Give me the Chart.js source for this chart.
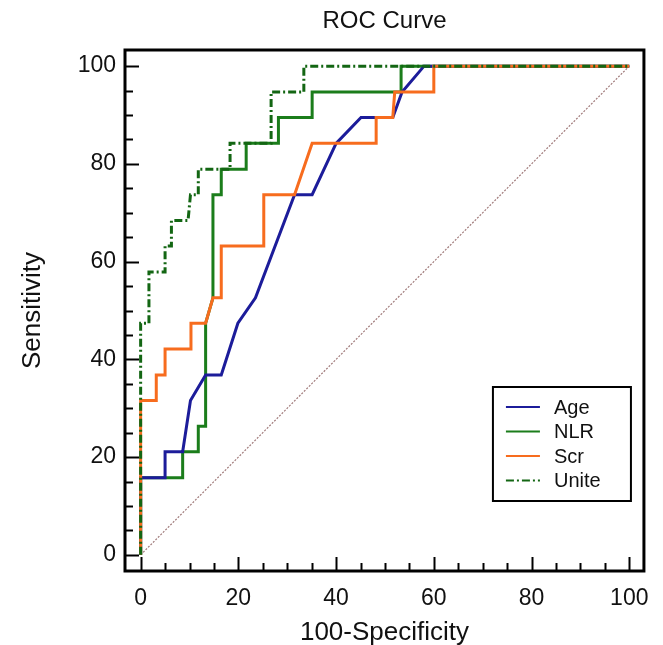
<!DOCTYPE html>
<html lang="en">
<head>
<meta charset="UTF-8">
<title>ROC Curve</title>
<script src="https://cdn.jsdelivr.net/npm/chart.js"></script>
<style>
  body { margin: 0; background: #fff; }
</style>
</head>
<body>
<canvas id="roc" width="663" height="645"></canvas>
<script>
// ROC points (100-Specificity, Sensitivity)
const ageX = [0, 0, 5, 5, 8.6, 10.2, 13.3, 16.5, 19.9, 23.5, 31.5, 35.1, 40, 45.1, 51.6, 53.5, 58, 100];
const ageY = [0, 15.8, 15.8, 21.1, 21.1, 31.6, 36.8, 36.8, 47.4, 52.6, 73.7, 73.7, 84.2, 89.5, 89.5, 94.7, 100, 100];

const nlrX = [0, 0, 8.6, 8.6, 11.8, 11.8, 13.3, 13.3, 14.8, 14.8, 16.5, 16.5, 21.6, 21.6, 28.2, 28.2, 35.1, 35.1, 53.3, 53.3, 100];
const nlrY = [0, 15.8, 15.8, 21.1, 21.1, 26.3, 26.3, 47.4, 52.6, 73.7, 73.7, 78.9, 78.9, 84.2, 84.2, 89.5, 89.5, 94.7, 94.7, 100, 100];

const scrX = [0, 0, 3.2, 3.2, 5, 5, 10.3, 10.3, 13.3, 14.8, 16.5, 16.5, 25.2, 25.2, 31.5, 35.1, 48.2, 48.2, 51.6, 52, 60, 60, 100];
const scrY = [0, 31.6, 31.6, 36.8, 36.8, 42.1, 42.1, 47.4, 47.4, 52.6, 52.6, 63.2, 63.2, 73.7, 73.7, 84.2, 84.2, 89.5, 89.5, 94.7, 94.7, 100, 100];

const uniteX = [0, 0, 1.7, 1.7, 5, 5, 6.3, 6.3, 9.7, 10.2, 11.8, 11.8, 18.3, 18.3, 26.7, 26.7, 33.4, 33.4, 100];
const uniteY = [0, 47.4, 47.4, 57.9, 57.9, 63.2, 63.2, 68.4, 68.4, 73.7, 73.7, 78.9, 78.9, 84.2, 84.2, 94.7, 94.7, 100, 100];

const refX = [0, 100];
const refY = [0, 100];

const seriesNames = ['Age', 'NLR', 'Scr', 'Unite'];
const axisTicks = [0, 20, 40, 60, 80, 100];

const FONT = 'Arial, "Liberation Sans", sans-serif';

function pts(xs, ys) {
    return xs.map((x, i) => ({ x: x, y: ys[i] }));
}

// frame and inward ticks (major every 20, minor every 5)
const frameTicks = {
    id: 'frameTicks',
    afterDatasetsDraw(chart) {
        const { ctx, chartArea: a, scales } = chart;
        ctx.save();
        ctx.strokeStyle = '#000';
        ctx.lineWidth = 2;
        for (let v = 0; v <= 100; v += 5) {
            const len = v % 20 === 0 ? 14 : 8;
            const px = Math.round(scales.x.getPixelForValue(v)) + 0.5;
            ctx.beginPath();
            ctx.moveTo(px, a.bottom);
            ctx.lineTo(px, a.bottom - len);
            ctx.stroke();
            const py = Math.round(scales.y.getPixelForValue(v)) + 0.5;
            ctx.beginPath();
            ctx.moveTo(a.left, py);
            ctx.lineTo(a.left + len, py);
            ctx.stroke();
        }
        ctx.lineWidth = 3;
        ctx.strokeRect(a.left, a.top, a.right - a.left, a.bottom - a.top);
        ctx.restore();
    }
};

// boxed legend inside the plot, lower right
const boxLegend = {
    id: 'boxLegend',
    afterDraw(chart) {
        const { ctx, chartArea: a } = chart;
        const w = 138, h = 114;
        const x0 = a.right - 13 - w, y0 = a.bottom - 70 - h;
        ctx.save();
        ctx.fillStyle = '#fff';
        ctx.fillRect(x0, y0, w, h);
        ctx.strokeStyle = '#000';
        ctx.lineWidth = 2;
        ctx.strokeRect(x0, y0, w, h);
        ctx.font = '20px ' + FONT;
        ctx.textBaseline = 'middle';
        seriesNames.forEach((name, i) => {
            const ds = chart.data.datasets[i];
            const y = y0 + 20 + i * 24.5;
            ctx.strokeStyle = ds.borderColor;
            ctx.lineWidth = 2;
            ctx.setLineDash(ds.borderDash || []);
            ctx.beginPath();
            ctx.moveTo(x0 + 13, y);
            ctx.lineTo(x0 + 47, y);
            ctx.stroke();
            ctx.setLineDash([]);
            ctx.fillStyle = '#111';
            ctx.fillText(name, x0 + 61, y + 1);
        });
        ctx.restore();
    }
};

const lineBase = { showLine: true, pointRadius: 0, borderWidth: 3, tension: 0, fill: false };

new Chart(document.getElementById('roc'), {
    type: 'scatter',
    data: {
        datasets: [
            Object.assign({}, lineBase, { label: 'Age', data: pts(ageX, ageY), borderColor: '#1c1c9a', order: 2 }),
            Object.assign({}, lineBase, { label: 'NLR', data: pts(nlrX, nlrY), borderColor: '#1b7d1b', order: 3 }),
            Object.assign({}, lineBase, { label: 'Scr', data: pts(scrX, scrY), borderColor: '#f76c1e', order: 1 }),
            Object.assign({}, lineBase, { label: 'Unite', data: pts(uniteX, uniteY), borderColor: '#136613', borderDash: [8, 3, 2, 3], order: 0 }),
            Object.assign({}, lineBase, { label: 'ref', data: pts(refX, refY), borderColor: '#a07a7a', borderWidth: 1.2, borderDash: [2, 1.5], order: 4 })
        ]
    },
    options: {
        responsive: false,
        animation: false,
        layout: { padding: { left: 0, right: 18, top: 0, bottom: 0 } },
        plugins: {
            legend: { display: false },
            tooltip: { enabled: false },
            title: {
                display: true,
                fullSize: false,
                text: 'ROC Curve',
                color: '#111',
                font: { family: FONT, size: 24, weight: 'normal', lineHeight: 1.2 },
                padding: { top: 7, bottom: 14.2 }
            }
        },
        scales: {
            x: {
                type: 'linear',
                min: -3.2,
                max: 103,
                afterFit: (s) => { s.height = 74; },
                afterBuildTicks: (s) => { s.ticks = axisTicks.map(v => ({ value: v })); },
                grid: { display: false, drawTicks: false },
                border: { display: false },
                ticks: { color: '#111', font: { family: FONT, size: 23 }, padding: 14, maxRotation: 0 },
                title: { display: true, text: '100-Specificity', color: '#111', font: { family: FONT, size: 26, lineHeight: 1 }, padding: { top: 0, bottom: -1 } }
            },
            y: {
                type: 'linear',
                min: -3.3,
                max: 103.3,
                afterFit: (s) => { s.width = 125; },
                afterBuildTicks: (s) => { s.ticks = axisTicks.map(v => ({ value: v })); },
                grid: { display: false, drawTicks: false },
                border: { display: false },
                ticks: { color: '#111', font: { family: FONT, size: 23 }, padding: 9 },
                title: { display: true, text: 'Sensitivity', color: '#111', font: { family: FONT, size: 26, lineHeight: 1 }, padding: { top: 20, bottom: 0 } }
            }
        }
    },
    plugins: [frameTicks, boxLegend]
});
</script>
</body>
</html>
